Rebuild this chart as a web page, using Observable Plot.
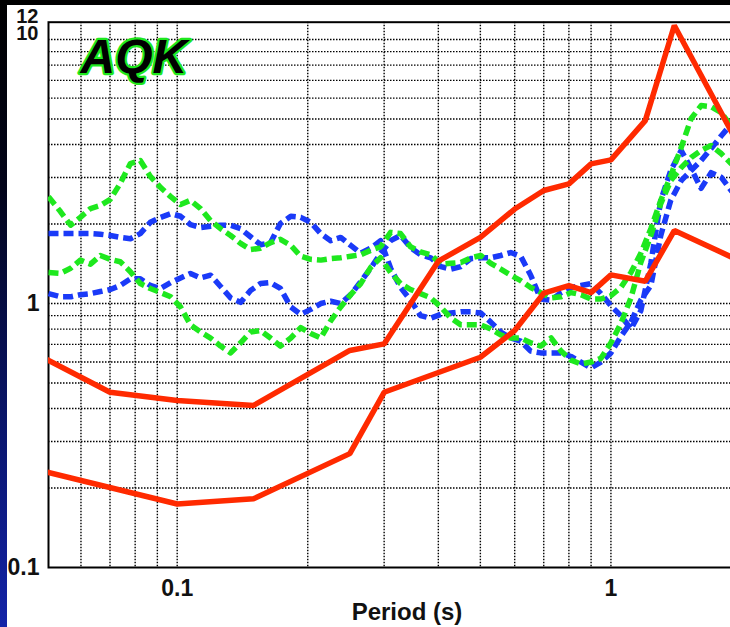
<!DOCTYPE html>
<html>
<head>
<meta charset="utf-8">
<script src="https://cdn.jsdelivr.net/npm/d3@7"></script>
<script src="https://cdn.jsdelivr.net/npm/@observablehq/plot@0.6"></script>
<style>
  html, body { margin: 0; padding: 0; width: 730px; height: 627px; overflow: hidden; }
  body { background: linear-gradient(to bottom, #000000 0%, #02041a 30%, #0a1670 70%, #1424a8 100%); position: relative; }
  #panel { position: absolute; left: 7px; top: 5px; width: 723px; height: 622px; overflow: hidden; background: #ffffff; }
  #panel svg { max-width: none !important; display: block; }
</style>
</head>
<body>
<div id="panel"></div>
<script>
// ---- data ----
const title = "AQK";
const xLabel = "Period (s)";
const xTicks = [0.1, 1];
const yTicks = [0.1, 1];
const yTickTop = [12];
const yTickShifted = [10];
const xGrid = [0.06, 0.07, 0.08, 0.09, 0.1, 0.2, 0.3, 0.4, 0.5, 0.6, 0.7, 0.8, 0.9, 1, 2];
const yGrid = [0.2, 0.3, 0.4, 0.5, 0.6, 0.7, 0.8, 0.9, 1, 2, 3, 4, 5, 6, 7, 8, 9, 10];

// dashed series, read along the period axis
const periods = [0.0505, 0.0538, 0.0568, 0.0598, 0.0631, 0.0665, 0.0701, 0.0739, 0.0780, 0.0822,
  0.0867, 0.0916, 0.0966, 0.1018, 0.1073, 0.1132, 0.1194, 0.1259, 0.1328, 0.1400,
  0.1476, 0.1556, 0.1641, 0.1730, 0.1828, 0.1927, 0.2032, 0.2143, 0.2259, 0.2382,
  0.2512, 0.2649, 0.2793, 0.2944, 0.3105, 0.3273, 0.3451, 0.3639, 0.3842, 0.4053,
  0.4275, 0.4508, 0.4753, 0.5012, 0.5284, 0.5572, 0.5875, 0.6194, 0.6531, 0.6887,
  0.7278, 0.7674, 0.8091, 0.8531, 0.8995, 0.9484, 1.000, 1.054, 1.112, 1.172,
  1.236, 1.303, 1.374, 1.452, 1.531, 1.614, 1.702, 1.795, 1.892, 1.995];

const blueA = [1.84, 1.84, 1.84, 1.84, 1.84, 1.83, 1.81, 1.78, 1.76, 1.84,
  2.03, 2.12, 2.19, 2.14, 1.99, 1.94, 1.96, 1.98, 1.98, 1.92,
  1.79, 1.67, 1.70, 2.01, 2.14, 2.12, 2.03, 1.84, 1.73, 1.78,
  1.66, 1.55, 1.62, 1.73, 1.36, 1.15, 1.03, 0.90, 0.88, 0.91,
  0.92, 0.93, 0.93, 0.92, 0.85, 0.78, 0.74, 0.72, 0.66, 0.65,
  0.65, 0.65, 0.63, 0.60, 0.57, 0.60, 0.65, 0.75, 0.85, 1.03,
  1.17, 1.81, 2.46, 2.92, 3.19, 3.48, 3.86, 4.31, 4.77, 5.20];

const blueB = [1.09, 1.06, 1.06, 1.08, 1.09, 1.11, 1.13, 1.17, 1.24, 1.24,
  1.17, 1.14, 1.20, 1.25, 1.30, 1.25, 1.28, 1.16, 1.05, 1.01,
  1.12, 1.19, 1.20, 1.14, 0.97, 0.91, 0.95, 1.00, 1.02, 1.00,
  1.08, 1.21, 1.36, 1.55, 1.73, 1.81, 1.63, 1.53, 1.49, 1.38,
  1.35, 1.38, 1.48, 1.49, 1.49, 1.52, 1.56, 1.51, 1.28, 1.04,
  1.03, 1.10, 1.15, 1.17, 1.19, 1.09, 0.98, 0.90, 0.80, 0.94,
  1.42, 2.46, 3.19, 3.80, 3.24, 2.73, 3.13, 3.01, 2.68, 2.46];

const greenA = [2.54, 2.23, 1.98, 2.12, 2.29, 2.35, 2.48, 2.85, 3.39, 3.48,
  3.03, 2.75, 2.54, 2.37, 2.46, 2.29, 2.06, 1.92, 1.81, 1.69,
  1.60, 1.62, 1.70, 1.75, 1.66, 1.51, 1.47, 1.46, 1.48, 1.49,
  1.51, 1.53, 1.59, 1.64, 1.86, 1.84, 1.64, 1.57, 1.53, 1.41,
  1.42, 1.43, 1.49, 1.52, 1.42, 1.35, 1.28, 1.22, 1.15, 1.10,
  1.05, 1.06, 1.10, 1.08, 1.04, 1.04, 1.07, 1.15, 1.31, 1.55,
  1.92, 2.46, 3.05, 3.90, 5.02, 5.62, 5.57, 5.29, 4.72, 4.14];

const greenB = [1.31, 1.30, 1.36, 1.46, 1.41, 1.52, 1.47, 1.44, 1.32, 1.19,
  1.14, 1.10, 1.06, 0.97, 0.83, 0.78, 0.74, 0.69, 0.65, 0.71,
  0.78, 0.79, 0.74, 0.69, 0.74, 0.81, 0.77, 0.74, 0.86, 0.97,
  1.08, 1.19, 1.37, 1.49, 1.31, 1.19, 1.13, 1.09, 1.05, 0.97,
  0.88, 0.83, 0.83, 0.83, 0.80, 0.76, 0.74, 0.74, 0.71, 0.69,
  0.74, 0.66, 0.61, 0.59, 0.60, 0.62, 0.71, 0.84, 1.05, 1.43,
  1.81, 2.39, 2.92, 3.27, 3.57, 3.80, 3.97, 3.70, 3.39, 3.13];

// solid red series
const redUpperPeriods = [0.05, 0.07, 0.1, 0.15, 0.25, 0.3, 0.4, 0.5, 0.6, 0.7, 0.8, 0.9, 1.0, 1.2, 1.4, 2.0];
const redUpper = [0.614, 0.461, 0.429, 0.411, 0.664, 0.703, 1.446, 1.78, 2.28, 2.68, 2.84, 3.38, 3.50, 4.93, 11.3, 3.8];
const redLowerPeriods = [0.05, 0.1, 0.15, 0.25, 0.3, 0.5, 0.6, 0.7, 0.8, 0.9, 1.0, 1.2, 1.4, 2.0];
const redLower = [0.23, 0.174, 0.182, 0.27, 0.461, 0.626, 0.79, 1.094, 1.17, 1.10, 1.284, 1.215, 1.89, 1.44];

// ---- styles ----
const RED = "#ff2a00", BLUE = "#1a3af8", GREEN = "#1ee81e";
const FONT = "'Liberation Sans', Arial, Helvetica, sans-serif";
const dashed = {strokeWidth: 5.5, strokeDasharray: "10,5", strokeLinecap: "butt", clip: true};
const gridStyle = {stroke: "#000", strokeOpacity: 1, strokeWidth: 1.4, strokeDasharray: "1.5,1.5"};
const labelText = {fontWeight: "bold", fill: "#111"};

const chart = Plot.plot({
  width: 734,
  height: 622,
  marginLeft: 41,
  marginRight: 0,
  marginTop: 16.7,
  marginBottom: 60,
  style: {fontFamily: FONT, fontWeight: "bold", background: "#fff", overflow: "visible", maxWidth: "none"},
  x: {type: "log", domain: [0.0505, 2.0], axis: null},
  y: {type: "log", domain: [0.1, 11.63], axis: null},
  marks: [
    Plot.gridX(xGrid, gridStyle),
    Plot.gridY(yGrid, gridStyle),
    Plot.frame({stroke: "#000", strokeWidth: 2}),
    // tick labels placed through the scales
    Plot.text(xTicks, {x: d => d, frameAnchor: "bottom", lineAnchor: "middle", dy: 21, fontSize: 23, ...labelText, text: d => String(d)}),
    Plot.text(yTicks, {y: d => d, frameAnchor: "left", textAnchor: "end", lineAnchor: "middle", dx: -9, fontSize: 23, ...labelText, text: d => String(d)}),
    Plot.text(yTickTop, {y: d => d, frameAnchor: "left", textAnchor: "end", lineAnchor: "middle", dx: -10, dy: -2, fontSize: 20, ...labelText, text: d => String(d)}),
    Plot.text(yTickShifted, {y: d => d, frameAnchor: "left", textAnchor: "end", lineAnchor: "middle", dx: -10, dy: -6, fontSize: 20, ...labelText, text: d => String(d)}),
    Plot.text([xLabel], {frameAnchor: "bottom", lineAnchor: "middle", dx: 12, dy: 45, fontSize: 24, ...labelText}),
    Plot.line(periods, {x: periods, y: blueA, stroke: BLUE, ...dashed}),
    Plot.line(periods, {x: periods, y: blueB, stroke: BLUE, ...dashed}),
    Plot.line(periods, {x: periods, y: greenA, stroke: GREEN, ...dashed}),
    Plot.line(periods, {x: periods, y: greenB, stroke: GREEN, ...dashed}),
    Plot.line(redUpperPeriods, {x: redUpperPeriods, y: redUpper, stroke: RED, strokeWidth: 5.5, strokeLinejoin: "miter", clip: true}),
    Plot.line(redLowerPeriods, {x: redLowerPeriods, y: redLower, stroke: RED, strokeWidth: 5.5, strokeLinejoin: "miter", clip: true}),
    Plot.text([title], {frameAnchor: "top-left", lineAnchor: "middle", dx: 32, dy: 35, textAnchor: "start", fontSize: 48, fontWeight: "bold", fontStyle: "italic", fill: "#000", stroke: GREEN, strokeWidth: 4.5, paintOrder: "stroke"})
  ]
});
document.getElementById("panel").appendChild(chart);
</script>
</body>
</html>
